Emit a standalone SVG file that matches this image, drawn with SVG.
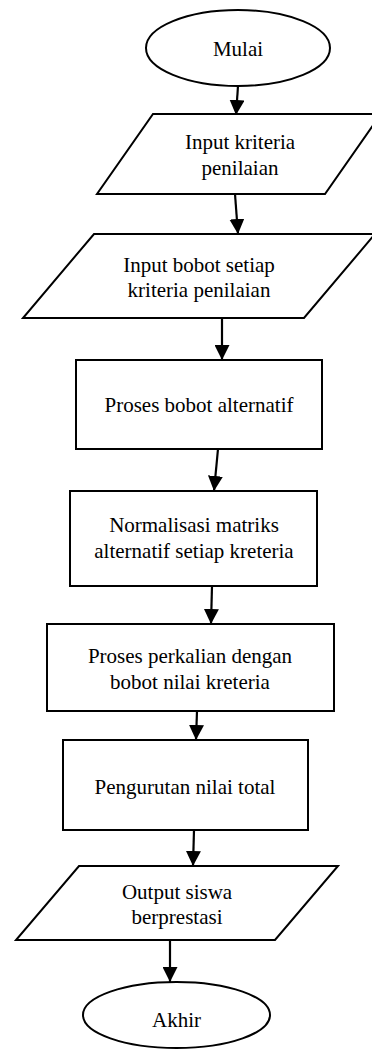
<svg xmlns="http://www.w3.org/2000/svg" width="372" height="1056" viewBox="0 0 372 1056">
<style>
.s{fill:#fff;stroke:#000;stroke-width:2}
.t{font-family:"Liberation Serif","Times New Roman",Times,serif;font-size:21px;fill:#000;text-anchor:middle}
.c{fill:none;stroke:#000;stroke-width:2.2}
</style>
<defs>
<marker id="ah" markerUnits="userSpaceOnUse" markerWidth="15" markerHeight="15" viewBox="0 0 15 15" refX="15" refY="7.5" orient="auto">
<path d="M0,0 L15,7.5 L0,15 Z" fill="#000"/>
</marker>
</defs>
<rect width="372" height="1056" fill="#fff"/>
<g id="connectors">
<line class="c" x1="238" y1="86" x2="236" y2="115" marker-end="url(#ah)"/>
<line class="c" x1="235" y1="194" x2="238" y2="234" marker-end="url(#ah)"/>
<line class="c" x1="222" y1="318" x2="222" y2="360" marker-end="url(#ah)"/>
<line class="c" x1="218" y1="449" x2="214" y2="491" marker-end="url(#ah)"/>
<line class="c" x1="212" y1="586" x2="211" y2="624" marker-end="url(#ah)"/>
<line class="c" x1="197" y1="711" x2="196" y2="740" marker-end="url(#ah)"/>
<line class="c" x1="194" y1="830" x2="193" y2="866" marker-end="url(#ah)"/>
<line class="c" x1="170" y1="940" x2="170" y2="982" marker-end="url(#ah)"/>
</g>
<g id="mulai">
<ellipse class="s" cx="238" cy="48" rx="92" ry="38"/>
<text class="t" x="238" y="56">Mulai</text>
</g>
<g id="input-kriteria">
<polygon class="s" points="153,114 381,114 325,194 97,194"/>
<text class="t" x="240" y="149">Input kriteria</text>
<text class="t" x="240" y="175">penilaian</text>
</g>
<g id="input-bobot">
<polygon class="s" points="94,234 375,234 304,318 23,318"/>
<text class="t" x="199" y="272">Input bobot setiap</text>
<text class="t" x="199" y="297">kriteria penilaian</text>
</g>
<g id="proses-bobot">
<rect class="s" x="76" y="360" width="246" height="89"/>
<text class="t" x="199" y="412">Proses bobot alternatif</text>
</g>
<g id="normalisasi">
<rect class="s" x="70" y="491" width="247" height="95"/>
<text class="t" x="194" y="532">Normalisasi matriks</text>
<text class="t" x="194" y="558">alternatif setiap kreteria</text>
</g>
<g id="perkalian">
<rect class="s" x="47" y="624" width="287" height="87"/>
<text class="t" x="190" y="663">Proses perkalian dengan</text>
<text class="t" x="190" y="689">bobot nilai kreteria</text>
</g>
<g id="pengurutan">
<rect class="s" x="63" y="740" width="245" height="90"/>
<text class="t" x="185" y="794">Pengurutan nilai total</text>
</g>
<g id="output">
<polygon class="s" points="79,866 338,866 275,940 16,940"/>
<text class="t" x="177" y="899">Output siswa</text>
<text class="t" x="177" y="924">berprestasi</text>
</g>
<g id="akhir">
<ellipse class="s" cx="176.5" cy="1015" rx="93.5" ry="33"/>
<text class="t" x="176.5" y="1027">Akhir</text>
</g>
</svg>
